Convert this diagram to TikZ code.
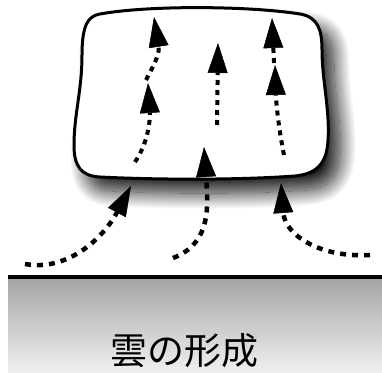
\documentclass[tikz,border=0pt]{standalone}
\usepackage{fontspec}
\newfontfamily\jpfont{Noto Sans CJK JP}
\usetikzlibrary{arrows.meta, shadows.blur}

\begin{document}
\begin{tikzpicture}[x=1pt, y=-1pt,
    flow/.style={line width=4.5pt, dash pattern=on 6pt off 6pt,
      -{Triangle[length=30pt, width=20pt, line width=0.5pt, fill=black]}},
    flowin/.style={flow, line width=4pt, dash pattern=on 5pt off 5pt}]
    \useasboundingbox (0,0) rectangle (382,372);

    % Ground
    \shade[top color=black!35, bottom color=black!6] (8,279) rectangle (382,372);
    \draw[line width=3.5pt] (8,277) -- (382,277);

    % Cloud
    \draw[line width=3pt, fill=white,
      blur shadow={shadow xshift=12pt, shadow yshift=-14pt,
        shadow blur radius=16pt, shadow opacity=90, shadow blur steps=24}]
      (100,14) .. controls (150,5) and (250,6) .. (300,14)
      .. controls (318,17) and (322,30) .. (322,50)
      .. controls (322,80) and (330,110) .. (328,140)
      .. controls (327,165) and (315,174) .. (295,176)
      .. controls (240,180) and (160,180) .. (100,177)
      .. controls (80,176) and (74,165) .. (74,145)
      .. controls (74,115) and (82,90) .. (82,55)
      .. controls (82,25) and (88,16) .. (100,14) -- cycle;

    % Rising air below the cloud
    \draw[flow] (25,264) .. controls (70,272) and (105,235) .. (131,186);
    \draw[flow] (173,258) .. controls (212,243) and (208,205) .. (204,147);
    \draw[flow] (370,255) .. controls (320,258) and (285,235) .. (281,183);

    % Rising air inside the cloud
    \draw[flowin] (135,162) .. controls (150,140) and (150,115) .. (148,83);
    \draw[flowin] (146,80) .. controls (152,68) and (160,55) .. (154,17);
    \draw[flowin] (217,125) -- (218,43);
    \draw[flowin] (284,155) .. controls (278,125) and (276,100) .. (275,65);
    \draw[flowin] (274,63) -- (272,18);

    % Caption
    \node[anchor=base, inner sep=0pt, font=\jpfont\fontsize{37}{40}\selectfont]
      (caption) at (184,364) {雲の形成};
\end{tikzpicture}
\end{document}
